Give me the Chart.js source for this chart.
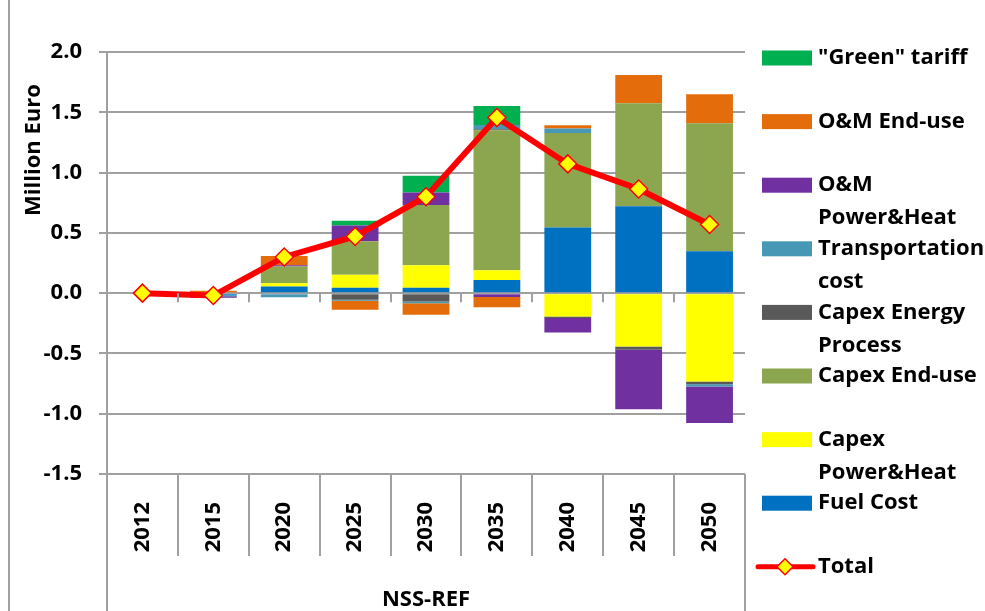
<!DOCTYPE html>
<html>
<head>
<meta charset="utf-8">
<script src="https://cdn.jsdelivr.net/npm/chart.js@4.4.1/dist/chart.umd.min.js"></script>
<style>
  html, body { margin: 0; padding: 0; background: #fff; }
  #wrap { width: 985px; height: 611px; position: relative; }
</style>
</head>
<body>
<div id="wrap"><canvas id="chart" width="985" height="611"></canvas></div>
<script>
// categories (years, scenario NSS-REF)
const years = ["2012", "2015", "2020", "2025", "2030", "2035", "2040", "2045", "2050"];
const yTicks = [-1.5, -1.0, -0.5, 0.0, 0.5, 1.0, 1.5, 2.0];

// series values, Million Euro
const fuelCost      = [0, -0.020, 0.055, 0.044, 0.044, 0.110, 0.544, 0.720, 0.347];
const capexPowerHeat = [0, 0, 0.028, 0.108, 0.188, 0.079, -0.194, -0.443, -0.733];
const capexEndUse   = [0, 0, 0.137, 0.278, 0.500, 1.161, 0.785, 0.854, 1.063];
const capexEnergy   = [0, 0, -0.010, -0.055, -0.069, 0.010, -0.013, -0.027, -0.022];
const transport     = [0, -0.006, -0.025, -0.008, -0.014, 0.035, 0.036, 0, -0.019];
const omPowerHeat   = [0, -0.012, 0.011, 0.130, 0.102, -0.033, -0.120, -0.492, -0.304];
const omEndUse      = [0, 0.019, 0.078, -0.075, -0.097, -0.083, 0.028, 0.235, 0.239];
const greenTariff   = [0, 0, 0, 0.040, 0.139, 0.158, 0, 0, 0];
const total         = [0, -0.020, 0.300, 0.470, 0.800, 1.456, 1.072, 0.864, 0.569];

const FONT = "'Open Sans', 'DejaVu Sans', sans-serif";
const GRID = "#A0A0A0";

const barSeries = [
  { label: "Fuel Cost", data: fuelCost, color: "#0070C0", legend: ["Fuel Cost"] },
  { label: "Capex Power&Heat", data: capexPowerHeat, color: "#FFFF00", legend: ["Capex", "Power&Heat"] },
  { label: "Capex End-use", data: capexEndUse, color: "#8CA650", legend: ["Capex End-use"] },
  { label: "Capex Energy Process", data: capexEnergy, color: "#595959", legend: ["Capex Energy", "Process"] },
  { label: "Transportation cost", data: transport, color: "#4798B5", legend: ["Transportation", "cost"] },
  { label: "O&M Power&Heat", data: omPowerHeat, color: "#7030A0", legend: ["O&M", "Power&Heat"] },
  { label: "O&M End-use", data: omEndUse, color: "#E46C0A", legend: ["O&M End-use"] },
  { label: "\"Green\" tariff", data: greenTariff, color: "#00B050", legend: ["\"Green\" tariff"] }
];

const datasets = barSeries.map(s => ({
  type: "bar",
  label: s.label,
  data: s.data,
  backgroundColor: s.color,
  borderWidth: 0,
  stack: "costs",
  order: 1,
  categoryPercentage: 1.0,
  barPercentage: 0.66
}));

datasets.push({
  type: "line",
  label: "Total",
  data: total,
  stack: "total",
  order: 0,
  borderColor: "#FF0000",
  borderWidth: 6,
  pointStyle: "rectRot",
  pointRadius: 9,
  pointBackgroundColor: "#FFFF00",
  pointBorderColor: "#FF0000",
  pointBorderWidth: 1.5,
  tension: 0
});

// frame lines, category boxes, axis title, category group label and legend
const extras = {
  id: "extras",
  afterDraw(chart) {
    const ctx = chart.ctx;
    const area = chart.chartArea;
    const xs = chart.scales.x;
    const ys = chart.scales.y;
    const y0 = ys.getPixelForValue(0);
    const H = chart.height;

    ctx.save();
    ctx.strokeStyle = GRID;
    ctx.lineWidth = 2;

    // outer frame (left edge)
    ctx.beginPath();
    ctx.moveTo(9, 0);
    ctx.lineTo(9, H);
    ctx.stroke();

    // category boundaries
    const n = years.length;
    const bounds = [];
    for (let i = 0; i <= n; i++) {
      if (i === 0) bounds.push(area.left);
      else if (i === n) bounds.push(area.right);
      else bounds.push((xs.getPixelForTick(i - 1) + xs.getPixelForTick(i)) / 2);
    }
    ctx.beginPath();
    bounds.forEach((bx, i) => {
      const x = Math.round(bx);
      if (i === 0 || i === n) {
        ctx.moveTo(x, area.bottom);
        ctx.lineTo(x, H);
      } else {
        ctx.moveTo(x, area.bottom);
        ctx.lineTo(x, area.bottom + 82);
        // tick marks on the zero axis
        ctx.moveTo(x, y0);
        ctx.lineTo(x, y0 + 9);
      }
    });
    ctx.stroke();

    // y axis title
    ctx.fillStyle = "#000";
    ctx.font = "bold 22px " + FONT;
    ctx.textAlign = "center";
    ctx.textBaseline = "middle";
    ctx.save();
    ctx.translate(34, 150);
    ctx.rotate(-Math.PI / 2);
    ctx.fillText("Million Euro", 0, 0);
    ctx.restore();

    // group label under the years
    ctx.fillText("NSS-REF", (area.left + area.right) / 2, 600);

    // legend (reverse order, Excel style)
    const lx = 762, sw = 50, tx = 818, top = 58, step = 63.6, lh = 33;
    ctx.textAlign = "left";
    const items = barSeries.slice().reverse();
    items.forEach((s, i) => {
      const cy = top + step * i;
      ctx.fillStyle = s.color;
      ctx.fillRect(lx, cy - 7.5, sw, 15);
      ctx.fillStyle = "#000";
      s.legend.forEach((t, k) => ctx.fillText(t, tx, cy + k * lh));
    });
    const cy = top + step * items.length;
    ctx.strokeStyle = "#FF0000";
    ctx.lineWidth = 5;
    ctx.lineCap = "round";
    ctx.beginPath();
    ctx.moveTo(758, cy);
    ctx.lineTo(813, cy);
    ctx.stroke();
    ctx.beginPath();
    ctx.moveTo(785, cy - 8);
    ctx.lineTo(793, cy);
    ctx.lineTo(785, cy + 8);
    ctx.lineTo(777, cy);
    ctx.closePath();
    ctx.fillStyle = "#FFFF00";
    ctx.fill();
    ctx.lineWidth = 1.5;
    ctx.stroke();
    ctx.fillStyle = "#000";
    ctx.fillText("Total", tx, cy);
    ctx.restore();
  }
};

new Chart(document.getElementById("chart"), {
  data: { labels: years, datasets: datasets },
  options: {
    responsive: false,
    animation: false,
    devicePixelRatio: 1,
    layout: { padding: { left: 0, top: 52, right: 240, bottom: 0 } },
    plugins: {
      legend: { display: false },
      tooltip: { enabled: false }
    },
    scales: {
      x: {
        stacked: true,
        grid: { display: false, drawTicks: false },
        border: { display: false },
        ticks: {
          minRotation: 90,
          maxRotation: 90,
          padding: 28,
          color: "#000",
          font: { family: FONT, size: 22, weight: "bold" }
        },
        afterFit(scale) { scale.height = 137; }
      },
      y: {
        stacked: true,
        min: -1.5,
        max: 2.0,
        afterBuildTicks(scale) { scale.ticks = yTicks.map(v => ({ value: v })); },
        grid: { color: GRID, lineWidth: 2, drawTicks: true, tickLength: 8 },
        border: { display: true, color: GRID, width: 2 },
        ticks: {
          padding: 17,
          color: "#000",
          font: { family: FONT, size: 22, weight: "bold" },
          callback: v => Number(v).toFixed(1)
        },
        afterFit(scale) { scale.width = 107; }
      }
    }
  },
  plugins: [extras]
});
</script>
</body>
</html>
